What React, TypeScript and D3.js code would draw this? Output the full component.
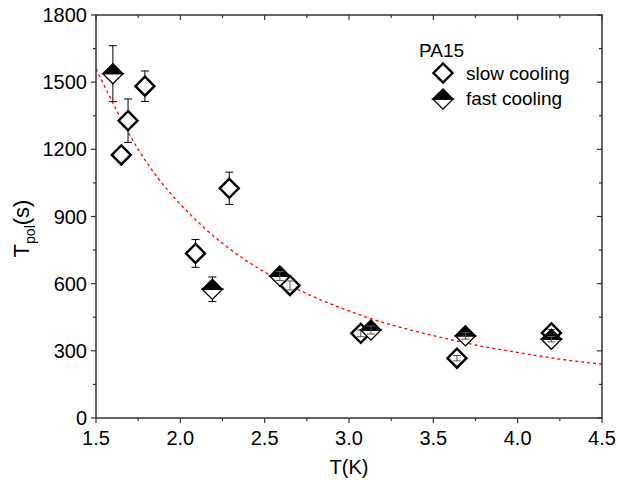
import React from "react";
import * as d3 from "d3";

const slowT = [1.65, 1.69, 1.79, 2.09, 2.29, 2.65, 3.07, 3.64, 4.2];
const slowTpol = [1175, 1328, 1482, 735, 1026, 592, 378, 267, 380];
const slowErr = [0, 97, 68, 62, 72, 20, 15, 12, 15];

const fastT = [1.6, 2.19, 2.59, 3.13, 3.69, 4.2];
const fastTpol = [1538, 575, 634, 393, 367, 352];
const fastErr = [125, 55, 20, 18, 15, 12];

const fitT = [1.5, 1.75, 2.0, 2.25, 2.5, 2.75, 3.0, 3.25, 3.5, 3.75, 4.0, 4.25, 4.5];
const fitTpol = [1560, 1200, 955, 780, 652, 555, 478, 416, 368, 326, 293, 263, 240];

const xTicks = [1.5, 2.0, 2.5, 3.0, 3.5, 4.0, 4.5];
const yTicks = [0, 300, 600, 900, 1200, 1500, 1800];

const legendTitle = "PA15";
const legendLabels = ["slow cooling", "fast cooling"];

const W = 618;
const H = 480;
const L = 96, R = 602, T = 15, B = 418;
const FONT = "Liberation Sans, Arial, sans-serif";
const MS = 9.5;

function diamond(cx: number, cy: number, r: number) {
  return `M${cx},${cy - r}L${cx + r},${cy}L${cx},${cy + r}L${cx - r},${cy}Z`;
}

function SlowMarker({ cx, cy }: { cx: number; cy: number }) {
  return <path d={diamond(cx, cy, MS)} fill="#fff" stroke="#000" strokeWidth={2.4} strokeLinejoin="miter" />;
}

function FastMarker({ cx, cy }: { cx: number; cy: number }) {
  const r = MS + 0.6;
  return (
    <g>
      <path d={`M${cx - r},${cy}L${cx},${cy + r}L${cx + r},${cy}Z`} fill="#fff" stroke="#000" strokeWidth={1.3} />
      <path d={`M${cx - r},${cy}L${cx},${cy - r}L${cx + r},${cy}Z`} fill="#000" stroke="#000" strokeWidth={1.3} />
    </g>
  );
}

export default function App() {
  const x = d3.scaleLinear().domain([1.5, 4.5]).range([L, R]);
  const y = d3.scaleLinear().domain([0, 1800]).range([B, T]);

  const xMinor = d3.range(1.5, 4.5001, 0.25);
  const yMinor = d3.range(0, 1800.1, 150);

  const fitLine = d3
    .line<number>()
    .x((_, i) => x(fitT[i]))
    .y((d) => y(d))
    .curve(d3.curveNatural)(fitTpol);

  const errBars = (ts: number[], vs: number[], es: number[], key: string) =>
    ts.map((t, i) => {
      if (!es[i]) return null;
      const cx = x(t), cy = y(vs[i]);
      const top = y(vs[i] + es[i]);
      const bot = y(vs[i] - es[i]);
      const outside = cy - top > MS;
      if (!outside) return null;
      return (
        <g key={key + i} stroke="#000" strokeWidth={1}>
          <line x1={cx} x2={cx} y1={top} y2={cy - MS} />
          <line x1={cx} x2={cx} y1={cy + MS} y2={bot} />
          <line x1={cx - 4} x2={cx + 4} y1={top} y2={top} />
          <line x1={cx - 4} x2={cx + 4} y1={bot} y2={bot} />
        </g>
      );
    });

  const innerBars = (ts: number[], vs: number[], es: number[], key: string) =>
    ts.map((t, i) => {
      if (!es[i]) return null;
      const cx = x(t), cy = y(vs[i]);
      const top = y(vs[i] + es[i]);
      const bot = y(vs[i] - es[i]);
      if (cy - top > MS) return null;
      return (
        <g key={key + i} stroke="#555" strokeWidth={1}>
          <line x1={cx} x2={cx} y1={top} y2={bot} />
          <line x1={cx - 4} x2={cx + 4} y1={top} y2={top} />
          <line x1={cx - 4} x2={cx + 4} y1={bot} y2={bot} />
        </g>
      );
    });

  return (
    <svg
      width={W}
      height={H}
      style={{ position: "absolute", left: 0, top: 0, background: "#fff" }}
      fontFamily={FONT}
    >
      <rect x={0} y={0} width={W} height={H} fill="#fff" />

      {/* fit curve */}
      <path d={fitLine || ""} fill="none" stroke="#ff0000" strokeWidth={1.3} strokeDasharray="3,3" />

      {/* slow cooling */}
      {errBars(slowT, slowTpol, slowErr, "se")}
      {slowT.map((t, i) => (
        <SlowMarker key={"s" + i} cx={x(t)} cy={y(slowTpol[i])} />
      ))}
      {innerBars(slowT, slowTpol, slowErr, "si")}

      {/* fast cooling */}
      {errBars(fastT, fastTpol, fastErr, "fe")}
      {fastT.map((t, i) => (
        <FastMarker key={"f" + i} cx={x(t)} cy={y(fastTpol[i])} />
      ))}
      {innerBars(fastT, fastTpol, fastErr, "fi")}

      {/* frame */}
      <rect x={L} y={T} width={R - L} height={B - T} fill="none" stroke="#333" strokeWidth={1.5} />

      {/* x ticks */}
      {xMinor.map((v, i) => {
        const major = Math.abs((v * 2) - Math.round(v * 2)) < 1e-6;
        const len = major ? 5 : 3;
        return (
          <g key={"xm" + i} stroke="#333" strokeWidth={1.2}>
            <line x1={x(v)} x2={x(v)} y1={B} y2={B + len} />
            <line x1={x(v)} x2={x(v)} y1={T} y2={T + len} />
          </g>
        );
      })}
      {xTicks.map((v) => (
        <text key={"xt" + v} x={x(v)} y={B + 27} textAnchor="middle" fontSize={20} fill="#000">
          {d3.format(".1f")(v)}
        </text>
      ))}

      {/* y ticks */}
      {yMinor.map((v, i) => {
        const major = v % 300 === 0;
        const len = major ? 5 : 3;
        return (
          <g key={"ym" + i} stroke="#333" strokeWidth={1.2}>
            <line x1={L - len} x2={L} y1={y(v)} y2={y(v)} />
            <line x1={R - len} x2={R} y1={y(v)} y2={y(v)} />
          </g>
        );
      })}
      {yTicks.map((v) => (
        <text key={"yt" + v} x={L - 9} y={y(v) + 7} textAnchor="end" fontSize={20} fill="#000">
          {String(v)}
        </text>
      ))}

      {/* axis titles */}
      <text x={(L + R) / 2} y={474} textAnchor="middle" fontSize={20} fill="#000">
        T(K)
      </text>
      <text transform={`translate(29, ${(T + B) / 2 + 12}) rotate(-90)`} textAnchor="middle" fontSize={22} fill="#000">
        T<tspan fontSize={14} dy={6}>pol</tspan>
        <tspan dy={-6}>(s)</tspan>
      </text>

      {/* legend */}
      <text x={419} y={57} fontSize={19} fill="#000">
        {legendTitle}
      </text>
      <SlowMarker cx={443} cy={73} />
      <text x={466} y={80} fontSize={19} fill="#000">
        {legendLabels[0]}
      </text>
      <FastMarker cx={443} cy={99} />
      <text x={466} y={105} fontSize={19} fill="#000">
        {legendLabels[1]}
      </text>
    </svg>
  );
}
